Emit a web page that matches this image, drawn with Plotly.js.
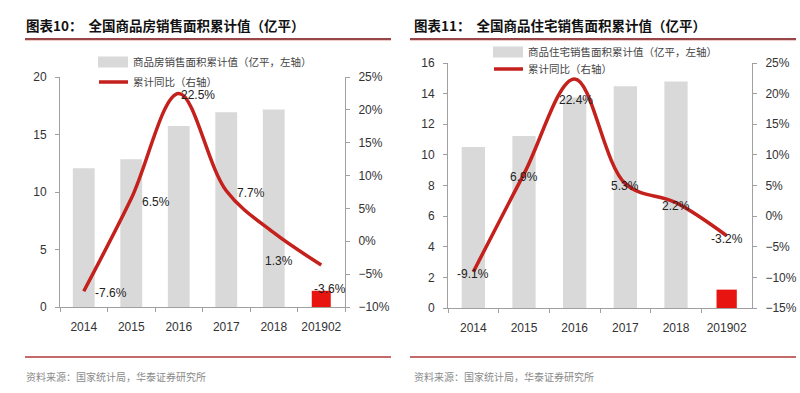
<!DOCTYPE html>
<html>
<head>
<meta charset="utf-8">
<script src="https://cdn.plot.ly/plotly-3.0.1.min.js"></script>
<style>
html,body{margin:0;padding:0;background:#fff;}
#chart{width:800px;height:393px;}
</style>
</head>
<body>
<div id="chart"></div>
<script>
// ---------- data ----------
const categories = ['2014', '2015', '2016', '2017', '2018', '201902'];

// 图表10 全国商品房
const areaAll = [12.06, 12.85, 15.73, 16.94, 17.17, 1.41];   // 亿平
const yoyAll  = [-7.6, 6.5, 22.5, 7.7, 1.3, -3.6];           // %

// 图表11 全国商品住宅
const areaRes = [10.52, 11.24, 13.75, 14.48, 14.79, 1.20];   // 亿平
const yoyRes  = [-9.1, 6.9, 22.4, 5.3, 2.2, -3.2];           // %

const leftTicks  = {range: [0, 20], dtick: 5};
const rightTicksA = {range: [-10, 25], dtick: 5};
const leftTicks2  = {range: [0, 16], dtick: 2};
const rightTicksB = {range: [-15, 25], dtick: 5};

const title1 = '图表10：  全国商品房销售面积累计值（亿平）';
const title2 = '图表11：  全国商品住宅销售面积累计值（亿平）';
const legendBar1 = '商品房销售面积累计值（亿平，左轴）';
const legendBar2 = '商品住宅销售面积累计值（亿平，左轴）';
const legendLine = '累计同比（右轴）';
const source = '资料来源：国家统计局，华泰证券研究所';

// ---------- styles ----------
const GRAY = '#d9d9d9', RED_BAR = '#e8140f', RED_LINE = '#c4201c';
const AXIS = '#a0a0a0', TXT = '#333333';
const NUMFONT = 'Liberation Sans, Arial, sans-serif';
const CJK = 'Noto Sans CJK SC, sans-serif';
const W = 800, H = 393;
const px = x => x / W, py = y => 1 - y / H;

const barColors = categories.map((c, i) => i === categories.length - 1 ? RED_BAR : GRAY);
const barWidths = categories.map((c, i) => i === categories.length - 1 ? 0.40 : 0.46);

// label pixel offsets (style)
const offA = [[27, -2], [25, -3], [19, -2], [25, -2], [5, -28], [9, -24]];
const offB = [[0, -2], [0, -3], [1, -21], [0, -2], [0, -3], [0, -3]];

const traces = [
  {type: 'bar', x: categories, y: areaAll, xaxis: 'x', yaxis: 'y',
   marker: {color: barColors}, width: barWidths, hoverinfo: 'skip'},
  {type: 'scatter', mode: 'lines', x: categories, y: yoyAll, xaxis: 'x', yaxis: 'y3',
   line: {color: RED_LINE, width: 3.5, shape: 'spline', smoothing: 1}, hoverinfo: 'skip'},
  {type: 'bar', x: categories, y: areaRes, xaxis: 'x2', yaxis: 'y2',
   marker: {color: barColors}, width: barWidths, hoverinfo: 'skip'},
  {type: 'scatter', mode: 'lines', x: categories, y: yoyRes, xaxis: 'x2', yaxis: 'y4',
   line: {color: RED_LINE, width: 3.5, shape: 'spline', smoothing: 1}, hoverinfo: 'skip'}
];

const tickFont = {family: NUMFONT, size: 12, color: TXT};
function xAx(domain, anchor) {
  return {domain, anchor, type: 'category', range: [-0.5, 5.5], showline: true,
    linecolor: AXIS, linewidth: 1, ticks: 'outside', tickson: 'boundaries',
    ticklen: 4, tickcolor: AXIS, tickfont: tickFont, showgrid: false, zeroline: false,
    tickangle: 0, ticklabelstandoff: 9, fixedrange: true};
}
function yAx(domain, anchor, t, side, overlay, suffix) {
  const a = {anchor, range: t.range, dtick: t.dtick, tick0: t.range[0], side,
    showline: true, linecolor: AXIS, linewidth: 1, ticks: 'outside', ticklen: 4,
    tickcolor: AXIS, tickfont: tickFont, showgrid: false, zeroline: false,
    ticksuffix: suffix || '', ticklabelstandoff: 6, fixedrange: true};
  if (overlay) a.overlaying = overlay; else a.domain = domain;
  return a;
}

const annotations = [];
const shapes = [];
function addLabels(vals, xr, yr, off) {
  vals.forEach((v, i) => annotations.push({
    x: i, y: v, xref: xr, yref: yr, text: v.toFixed(1) + '%',
    showarrow: false, xshift: off[i][0], yshift: off[i][1],
    font: {family: NUMFONT, size: 12, color: '#222'}
  }));
}
addLabels(yoyAll, 'x', 'y3', offA);
addLabels(yoyRes, 'x2', 'y4', offB);

function panelDecor(x0, x1, titleText, titleX, legBarText, legX, legY1, legY2, srcX) {
  annotations.push({xref: 'paper', yref: 'paper', x: px(titleX), y: py(25), xanchor: 'left',
    yanchor: 'middle', showarrow: false, text: '<b>' + titleText + '</b>',
    font: {family: CJK, size: 13.5, color: '#111'}});
  shapes.push({type: 'line', xref: 'paper', yref: 'paper', x0: px(x0), x1: px(x1),
    y0: py(39.5), y1: py(39.5), line: {color: '#f0c8c8', width: 3}});
  shapes.push({type: 'line', xref: 'paper', yref: 'paper', x0: px(x0), x1: px(x1),
    y0: py(39), y1: py(39), line: {color: '#7a1c1c', width: 1.5}});
  // legend
  shapes.push({type: 'rect', xref: 'paper', yref: 'paper', x0: px(legX), x1: px(legX + 30),
    y0: py(legY1 - 5.5), y1: py(legY1 + 5.5), fillcolor: GRAY, line: {width: 0}});
  shapes.push({type: 'line', xref: 'paper', yref: 'paper', x0: px(legX + 1), x1: px(legX + 30),
    y0: py(legY2), y1: py(legY2), line: {color: RED_LINE, width: 3.5}});
  annotations.push({xref: 'paper', yref: 'paper', x: px(legX + 33), y: py(legY1), xanchor: 'left',
    yanchor: 'middle', showarrow: false, text: legBarText,
    font: {family: CJK, size: 10.5, color: '#444'}});
  annotations.push({xref: 'paper', yref: 'paper', x: px(legX + 33), y: py(legY2), xanchor: 'left',
    yanchor: 'middle', showarrow: false, text: legendLine,
    font: {family: CJK, size: 10.5, color: '#444'}});
  // footer
  shapes.push({type: 'line', xref: 'paper', yref: 'paper', x0: px(x0), x1: px(x1),
    y0: py(357), y1: py(357), line: {color: '#c46a6a', width: 2}});
  annotations.push({xref: 'paper', yref: 'paper', x: px(srcX), y: py(376), xanchor: 'left',
    yanchor: 'middle', showarrow: false, text: source,
    font: {family: CJK, size: 10, color: '#8a8a8a'}});
}
panelDecor(25, 391, title1, 24, legendBar1, 98, 62, 82, 24);
panelDecor(410, 796, title2, 412, legendBar2, 493, 52, 69, 412);

const layout = {
  width: W, height: H, margin: {l: 0, r: 0, t: 0, b: 0},
  paper_bgcolor: '#fff', plot_bgcolor: 'rgba(0,0,0,0)',
  showlegend: false, bargap: 0.5,
  xaxis: xAx([px(60), px(345)], 'y'),
  yaxis: yAx([py(307), py(77)], 'x', leftTicks, 'left'),
  yaxis3: yAx(null, 'x', rightTicksA, 'right', 'y', '%'),
  xaxis2: xAx([px(448), px(752)], 'y2'),
  yaxis2: yAx([py(308), py(63)], 'x2', leftTicks2, 'left'),
  yaxis4: yAx(null, 'x2', rightTicksB, 'right', 'y2', '%'),
  annotations, shapes
};

Plotly.newPlot('chart', traces, layout, {staticPlot: true, displayModeBar: false});
</script>
</body>
</html>
